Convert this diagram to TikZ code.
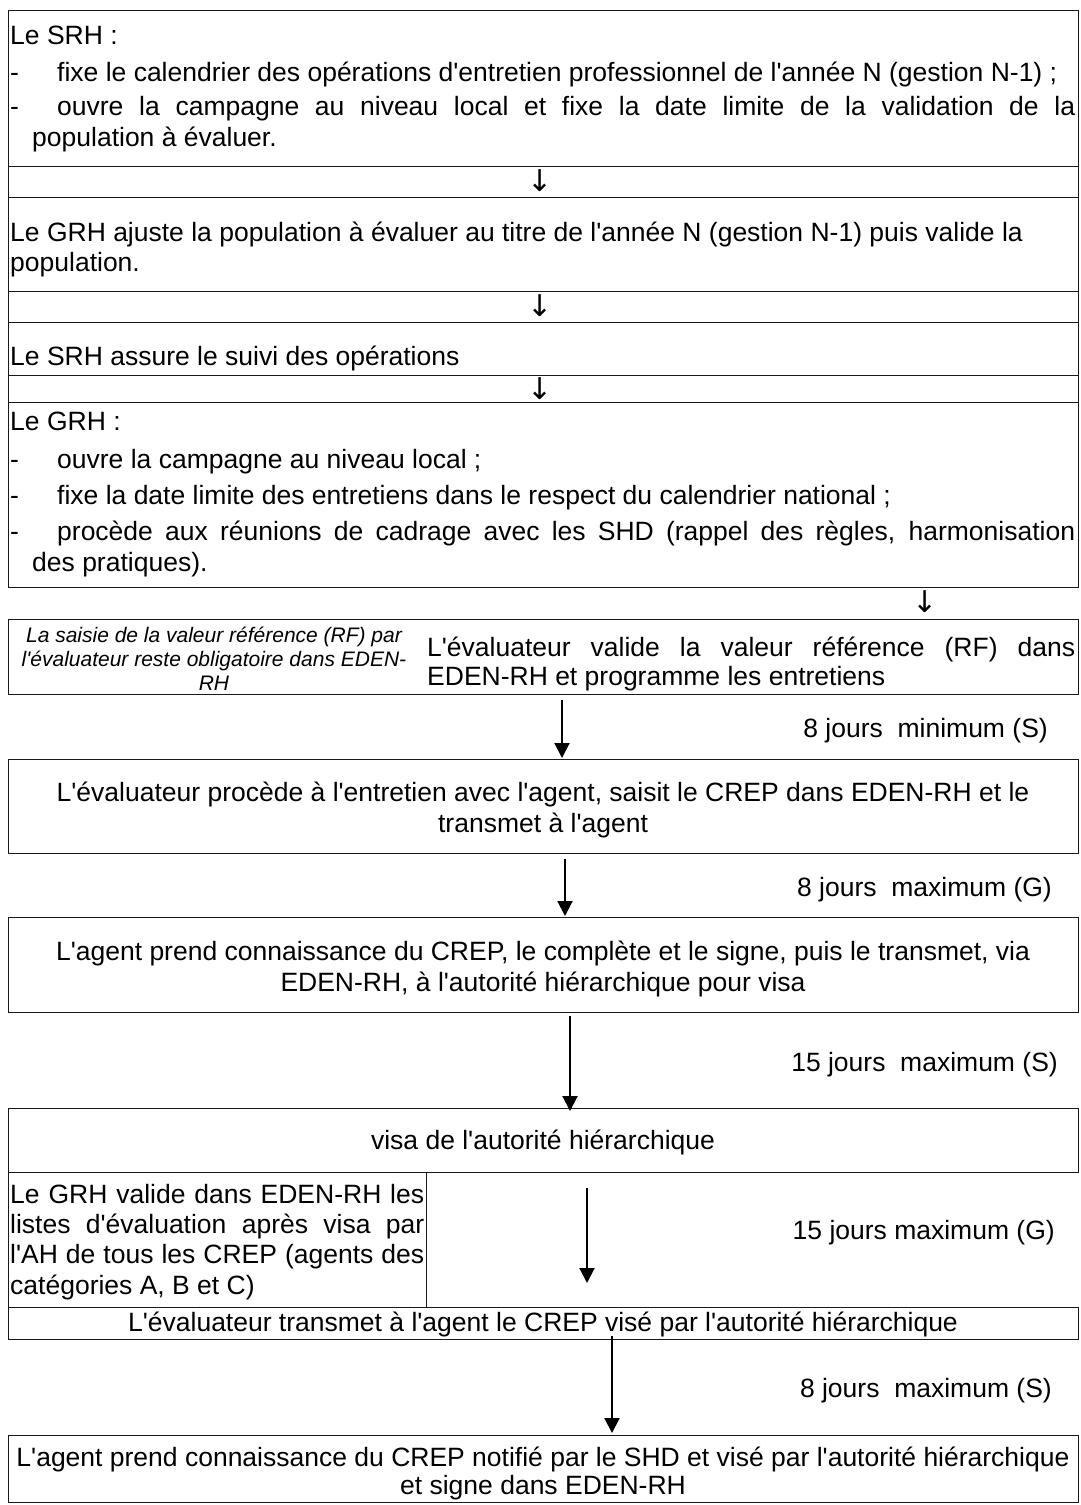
\documentclass[tikz,border=0pt]{standalone}
\usepackage{fontspec}
\newfontfamily\lsans{Liberation Sans}
\newfontfamily\dvsans{DejaVu Sans}
\usetikzlibrary{arrows.meta}
\newcommand\szA{\lsans\fontsize{26.5}{30.5}\selectfont}
\newcommand\szB{\lsans\fontsize{21}{25}\selectfont\itshape}
\newcommand\szC{\dvsans\fontsize{30}{32}\selectfont}
\tikzset{
  boxst/.style={draw=black!90, line width=1.3pt, inner sep=0pt, anchor=north west},
  ln/.style={inner sep=0pt, anchor=base west, font=\szA},
  lc/.style={inner sep=0pt, anchor=base, font=\szA},
  li/.style={inner sep=0pt, anchor=base, font=\szB},
  lbl/.style={inner sep=0pt, anchor=base east, font=\szA},
  darr/.style={inner sep=0pt, anchor=center, font=\szC},
  arr/.style={line width=2pt, -{Triangle[width=15pt,length=15pt]}}
}
\begin{document}
\begin{tikzpicture}[x=1pt,y=-1pt]
\useasboundingbox (0,0) rectangle (1080,1505);
% ---- boxes
\node[boxst, minimum width=1070pt, minimum height=156pt] (A) at (8,10) {};
\node[boxst, minimum width=1070pt, minimum height=31pt] (R1) at (8,166) {};
\node[boxst, minimum width=1070pt, minimum height=94pt] (B) at (8,197) {};
\node[boxst, minimum width=1070pt, minimum height=31pt] (R2) at (8,291) {};
\node[boxst, minimum width=1070pt, minimum height=53pt] (C) at (8,322) {};
\node[boxst, minimum width=1070pt, minimum height=27pt] (R3) at (8,375) {};
\node[boxst, minimum width=1070pt, minimum height=185pt] (D) at (8,402) {};
\node[boxst, minimum width=1070pt, minimum height=75pt] (RF) at (8,619) {};
\node[boxst, minimum width=1070pt, minimum height=94pt] (E) at (8,759) {};
\node[boxst, minimum width=1070pt, minimum height=95pt] (F) at (8,917) {};
\node[boxst, minimum width=1070pt, minimum height=64pt] (G) at (8,1108) {};
\node[boxst, minimum width=418pt, minimum height=135pt] (H) at (8,1172) {};
\node[boxst, minimum width=1070pt, minimum height=32pt] (I) at (8,1307) {};
\node[boxst, minimum width=1070pt, minimum height=67pt] (J) at (8,1435) {};
% ---- box A
\node[ln] (a1) at (10,44) {Le SRH :};
\node[ln] (a2) at (10,81) {-};
\node[ln] (a3) at (57,81) {fixe le calendrier des opérations d'entretien professionnel de l'année N (gestion N-1) ;};
\node[ln] (a4) at (10,115) {-};
\node[ln] (a5) at (57,115) {\makebox[1018pt][s]{ouvre la campagne au niveau local et fixe la date limite de la validation de la}};
\node[ln] (a6) at (32,146) {population à évaluer.};
\node[darr] (d1) at (540,181) {↓};
% ---- box B
\node[ln] (b1) at (10,241) {Le GRH ajuste la population à évaluer au titre de l'année N (gestion N-1) puis valide la};
\node[ln] (b2) at (10,271) {population.};
\node[darr] (d2) at (540,306) {↓};
% ---- box C
\node[ln] (c1) at (10,365) {Le SRH assure le suivi des opérations};
\node[darr] (d3) at (540,389) {↓};
% ---- box D
\node[ln] (e1) at (10,430) {Le GRH :};
\node[ln] (e2) at (10,468) {-};
\node[ln] (e3) at (57,468) {ouvre la campagne au niveau local ;};
\node[ln] (e4) at (10,504) {-};
\node[ln] (e5) at (57,504) {fixe la date limite des entretiens dans le respect du calendrier national ;};
\node[ln] (e6) at (10,540) {-};
\node[ln] (e7) at (57,540) {\makebox[1018pt][s]{procède aux réunions de cadrage avec les SHD (rappel des règles, harmonisation}};
\node[ln] (e8) at (32,571) {des pratiques).};
\node[darr] (d4) at (925,602) {↓};
% ---- RF box
\node[li] (f1) at (214,642) {La saisie de la valeur référence (RF) par};
\node[li] (f2) at (214,666) {l'évaluateur reste obligatoire dans EDEN-};
\node[li] (f3) at (214,690) {RH};
\node[ln] (f4) at (427,656) {\makebox[648pt][s]{L'évaluateur valide la valeur référence (RF) dans}};
\node[ln] (f5) at (427,685) {EDEN-RH et programme les entretiens};
% ---- box E
\node[lc] (g1) at (543,801) {L'évaluateur procède à l'entretien avec l'agent, saisit le CREP dans EDEN-RH et le};
\node[lc] (g2) at (543,832) {transmet à l'agent};
% ---- box F
\node[lc] (h1) at (543,960) {L'agent prend connaissance du CREP, le complète et le signe, puis le transmet, via};
\node[lc] (h2) at (543,991) {EDEN-RH, à l'autorité hiérarchique pour visa};
% ---- box G
\node[lc] (i1) at (543,1149) {visa de l'autorité hiérarchique};
% ---- box H
\node[ln] (j1) at (10,1203) {\makebox[414pt][s]{Le GRH valide dans EDEN-RH les}};
\node[ln] (j2) at (10,1233) {\makebox[414pt][s]{listes d'évaluation après visa par}};
\node[ln] (j3) at (10,1263) {\makebox[414pt][s]{l'AH de tous les CREP (agents des}};
\node[ln] (j4) at (10,1294) {catégories A, B et C)};
% ---- box I
\node[lc] (k1) at (543,1331) {L'évaluateur transmet à l'agent le CREP visé par l'autorité hiérarchique};
% ---- box J
\node[lc] (m1) at (543,1466) {L'agent prend connaissance du CREP notifié par le SHD et visé par l'autorité hiérarchique};
\node[lc] (m2) at (543,1494) {et signe dans EDEN-RH};
% ---- delay labels
\node[lbl] (L1) at (1048,737) {8 jours~~minimum (S)};
\node[lbl] (L2) at (1052,896) {8 jours~~maximum (G)};
\node[lbl] (L3) at (1058,1071) {15 jours~~maximum (S)};
\node[lbl] (L4) at (1055,1239) {15 jours maximum (G)};
\node[lbl] (L5) at (1052,1397) {8 jours~~maximum (S)};
% ---- arrows
\coordinate (x1) at (562,0);
\coordinate (x2) at (565,0);
\coordinate (x3) at (570,0);
\coordinate (x4) at (587,0);
\coordinate (x5) at (612,0);
\draw[arr, shorten <=5pt, shorten >=1pt] (RF.south -| x1) -- (E.north -| x1);
\draw[arr, shorten <=5pt, shorten >=1pt] (E.south -| x2) -- (F.north -| x2);
\draw[arr, shorten <=3pt, shorten >=-3pt] (F.south -| x3) -- (G.north -| x3);
\draw[arr, shorten <=15pt, shorten >=24pt] (G.south -| x4) -- (I.north -| x4);
\draw[arr, shorten <=-4pt, shorten >=2pt] (I.south -| x5) -- (J.north -| x5);
\end{tikzpicture}
\end{document}
